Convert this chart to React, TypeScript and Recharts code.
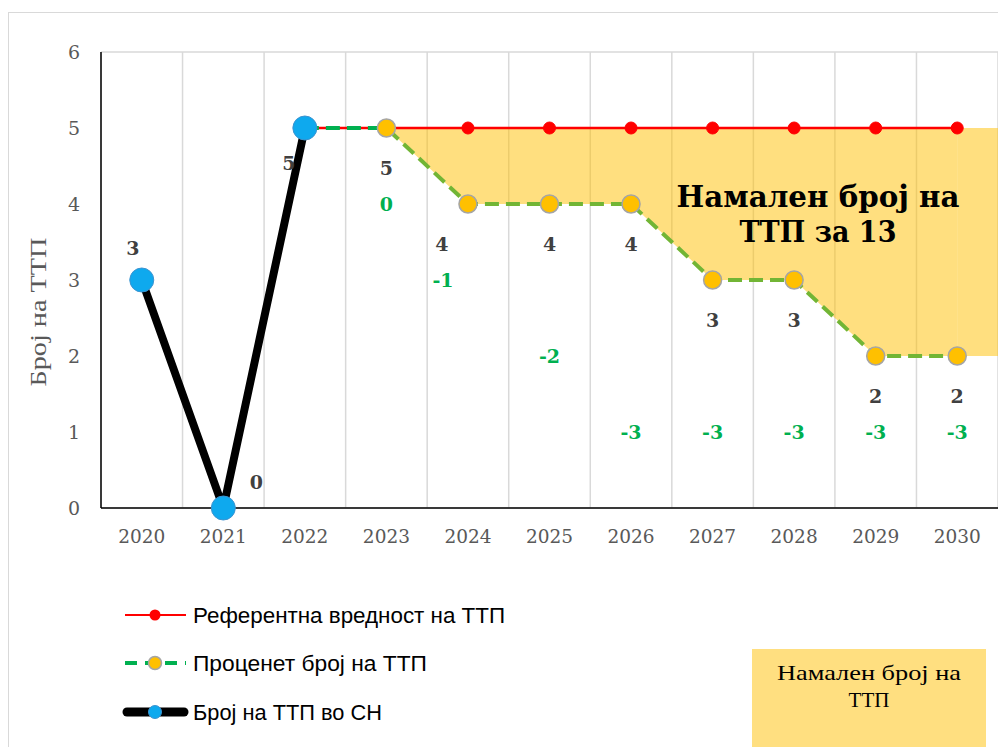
import React from "react";
import {
  ComposedChart,
  Line,
  Area,
  XAxis,
  YAxis,
  CartesianGrid,
  ReferenceArea,
  LabelList,
} from "recharts";

const years = [2020, 2021, 2022, 2023, 2024, 2025, 2026, 2027, 2028, 2029, 2030];
const actualCount = [3, 0, 5, null, null, null, null, null, null, null, null];
const referenceCount = [null, null, 5, 5, 5, 5, 5, 5, 5, 5, 5];
const estimatedCount = [null, null, 5, 5, 4, 4, 4, 3, 3, 2, 2];
const reductionLabels = [null, null, null, 0, -1, -2, -3, -3, -3, -3, -3];
const yTicks = [0, 1, 2, 3, 4, 5, 6];
const firstGapYear = 2023;

const data = years.map((year, i) => ({
  year,
  actual: actualCount[i],
  reference: referenceCount[i],
  estimated: estimatedCount[i],
  reduction: reductionLabels[i],
  gap:
    year >= firstGapYear && estimatedCount[i] != null && referenceCount[i] != null
      ? [estimatedCount[i], referenceCount[i]]
      : null,
}));

const lastIdx = years.length - 1;
const estStart = years[estimatedCount.findIndex((v) => v != null)];
// where the shaded area begins along the estimated line (0..1)
const fillStartFrac = (firstGapYear - estStart) / (years[lastIdx] - estStart);

const SERIF = "'DejaVu Serif', serif";
const GRAY = "#595959";
const LABEL_GRAY = "#404040";
const GREEN = "#00B050";
const GREEN_UNDER_FILL = "#72B535";
const FILL = "#FFC000";

// nudges for a few labels that sit off-centre in the original
const actualLabelShift: Record<number, [number, number]> = {
  0: [-9, -32],
  1: [33, -26],
  2: [-16, 35],
};

const ActualLabel = (props: any) => {
  const { x, y, value, index } = props;
  if (value == null) return null;
  const [dx, dy] = actualLabelShift[index] || [0, -30];
  return (
    <text
      x={x + dx}
      y={y + dy}
      textAnchor="middle"
      dominantBaseline="central"
      fontFamily={SERIF}
      fontWeight="bold"
      fontSize={19}
      fill={LABEL_GRAY}
    >
      {value}
    </text>
  );
};

const EstimatedLabel = (props: any) => {
  const { x, y, value, index } = props;
  if (value == null || years[index] < firstGapYear) return null;
  const dx = years[index] === 2024 ? -26 : 0;
  return (
    <text
      x={x + dx}
      y={y + 40}
      textAnchor="middle"
      dominantBaseline="central"
      fontFamily={SERIF}
      fontWeight="bold"
      fontSize={19}
      fill={LABEL_GRAY}
    >
      {value}
    </text>
  );
};

const ReductionLabel = (props: any) => {
  const { x, y, value, index } = props;
  if (value == null) return null;
  const dx = years[index] === 2024 ? -25 : 0;
  return (
    <text
      x={x + dx}
      y={y}
      textAnchor="middle"
      dominantBaseline="central"
      fontFamily={SERIF}
      fontWeight="bold"
      fontSize={19}
      fill={GREEN}
    >
      {value}
    </text>
  );
};

const legendItems = [
  { name: "Референтна вредност на ТТП", width: 312 },
  { name: "Проценет број на ТТП", width: 234 },
  { name: "Број на ТТП во СН", width: 189 },
];

export default function App() {
  return (
    <div style={{ position: "relative", width: 998, height: 739, overflow: "hidden" }}>
      <div
        style={{
          position: "absolute",
          left: 0,
          top: 4,
          width: 1100,
          height: 900,
          border: "1.5px solid #d9d9d9",
          boxSizing: "border-box",
        }}
      />
      <div style={{ position: "absolute", left: 0, top: 0 }}>
        <ComposedChart
          width={998}
          height={600}
          data={data}
          margin={{ top: 44, right: 8, bottom: 52, left: 0 }}
        >
          <defs>
            <linearGradient id="estStroke" x1="0" y1="0" x2="1" y2="0">
              <stop offset={0} stopColor={GREEN} />
              <stop offset={fillStartFrac} stopColor={GREEN} />
              <stop offset={fillStartFrac} stopColor={GREEN_UNDER_FILL} />
              <stop offset={1} stopColor={GREEN_UNDER_FILL} />
            </linearGradient>
          </defs>
          <CartesianGrid
            stroke="#d9d9d9"
            strokeWidth={1.5}
            verticalCoordinatesGenerator={({ offset }: any) =>
              Array.from(
                { length: years.length + 1 },
                (_, i) => offset.left + (i * offset.width) / years.length
              )
            }
          />
          <XAxis
            dataKey="year"
            type="number"
            domain={[years[0] - 0.5, years[lastIdx] + 0.5]}
            ticks={years}
            interval={0}
            tickLine={false}
            axisLine={{ stroke: "#000", strokeWidth: 1.5 }}
            tick={{ fill: GRAY, fontSize: 18.5, fontFamily: SERIF }}
            tickMargin={16}
            height={48}
          />
          <YAxis
            yAxisId="left"
            domain={[0, 6]}
            ticks={yTicks}
            interval={0}
            tickLine={false}
            axisLine={{ stroke: "#000", strokeWidth: 1.5 }}
            tick={{ fill: GRAY, fontSize: 19, fontFamily: SERIF }}
            tickMargin={15}
            width={93}
          />
          <YAxis yAxisId="diff" orientation="right" domain={[-4, 2]} hide />
          <Area
            yAxisId="left"
            dataKey="gap"
            stroke="none"
            fill={FILL}
            fillOpacity={0.5}
            isAnimationActive={false}
          />
          <ReferenceArea
            yAxisId="left"
            x1={years[lastIdx]}
            x2={years[lastIdx] + 0.5}
            y1={estimatedCount[lastIdx] as number}
            y2={referenceCount[lastIdx] as number}
            fill={FILL}
            fillOpacity={0.5}
            stroke="none"
          />
          <Line
            yAxisId="left"
            dataKey="reference"
            stroke="#FF0000"
            strokeWidth={2.5}
            dot={{ r: 6, fill: "#FF0000", stroke: "#FF0000", strokeWidth: 1 }}
            isAnimationActive={false}
          />
          <Line
            yAxisId="left"
            dataKey="estimated"
            stroke="url(#estStroke)"
            strokeWidth={4}
            strokeDasharray="14 7"
            dot={{ r: 9, fill: "#FFC000", stroke: "#A5A5A5", strokeWidth: 1.5, strokeDasharray: "0" }}
            isAnimationActive={false}
          >
            <LabelList dataKey="estimated" content={EstimatedLabel} />
          </Line>
          <Line
            yAxisId="left"
            dataKey="actual"
            stroke="#000"
            strokeWidth={8}
            strokeLinejoin="round"
            dot={{ r: 12, fill: "#0EA9EE", stroke: "#3C93D0", strokeWidth: 1 }}
            isAnimationActive={false}
          >
            <LabelList dataKey="actual" content={ActualLabel} />
          </Line>
          <Line
            yAxisId="diff"
            dataKey="reduction"
            stroke="none"
            dot={false}
            activeDot={false}
            isAnimationActive={false}
          >
            <LabelList dataKey="reduction" content={ReductionLabel} />
          </Line>
        </ComposedChart>
      </div>
      <svg
        width={998}
        height={739}
        style={{ position: "absolute", left: 0, top: 0, pointerEvents: "none" }}
      >
        <text
          transform="translate(30,304) rotate(-90)"
          textAnchor="middle"
          dominantBaseline="central"
          fontFamily="'Liberation Serif', serif"
          fontSize={23}
          fill={GRAY}
          textLength={149}
          lengthAdjust="spacingAndGlyphs"
        >
          Број на ТТП
        </text>
        <g fontFamily={SERIF} fontWeight="bold" fontSize={29} fill="#000" textAnchor="middle">
          <text x={810} y={189} dominantBaseline="central" textLength={283} lengthAdjust="spacingAndGlyphs">
            Намален број на
          </text>
          <text x={810} y={224} dominantBaseline="central" textLength={157} lengthAdjust="spacingAndGlyphs">
            ТТП за 13
          </text>
        </g>
        {/* legend */}
        <g>
          <line x1={117} y1={607} x2={178} y2={607} stroke="#FF0000" strokeWidth={2} />
          <circle cx={147} cy={607} r={5.5} fill="#FF0000" />
          <line x1={117} y1={655} x2={178} y2={655} stroke={GREEN} strokeWidth={4} strokeDasharray="12 8" />
          <circle cx={147} cy={655} r={6.5} fill="#FFC000" stroke="#A5A5A5" strokeWidth={1.5} />
          <line x1={119} y1={704} x2={176} y2={704} stroke="#000" strokeWidth={9} strokeLinecap="round" />
          <circle cx={147} cy={704} r={6.5} fill="#0EA9EE" stroke="#3C93D0" strokeWidth={1} />
          {legendItems.map((item, i) => (
            <text
              key={item.name}
              x={185}
              y={607 + i * 48.5}
              dominantBaseline="central"
              fontFamily="'Liberation Sans', sans-serif"
              fontSize={22}
              fill="#000"
              textLength={item.width}
              lengthAdjust="spacingAndGlyphs"
            >
              {item.name}
            </text>
          ))}
        </g>
        <rect x={744} y={641} width={234} height={120} fill="#FFDF80" />
        <g fontFamily="'Liberation Serif', serif" fontSize={21} fill="#000" textAnchor="middle">
          <text x={861} y={665} dominantBaseline="central" textLength={184} lengthAdjust="spacingAndGlyphs">
            Намален број на
          </text>
          <text x={861} y={692} dominantBaseline="central">
            ТТП
          </text>
        </g>
      </svg>
    </div>
  );
}
